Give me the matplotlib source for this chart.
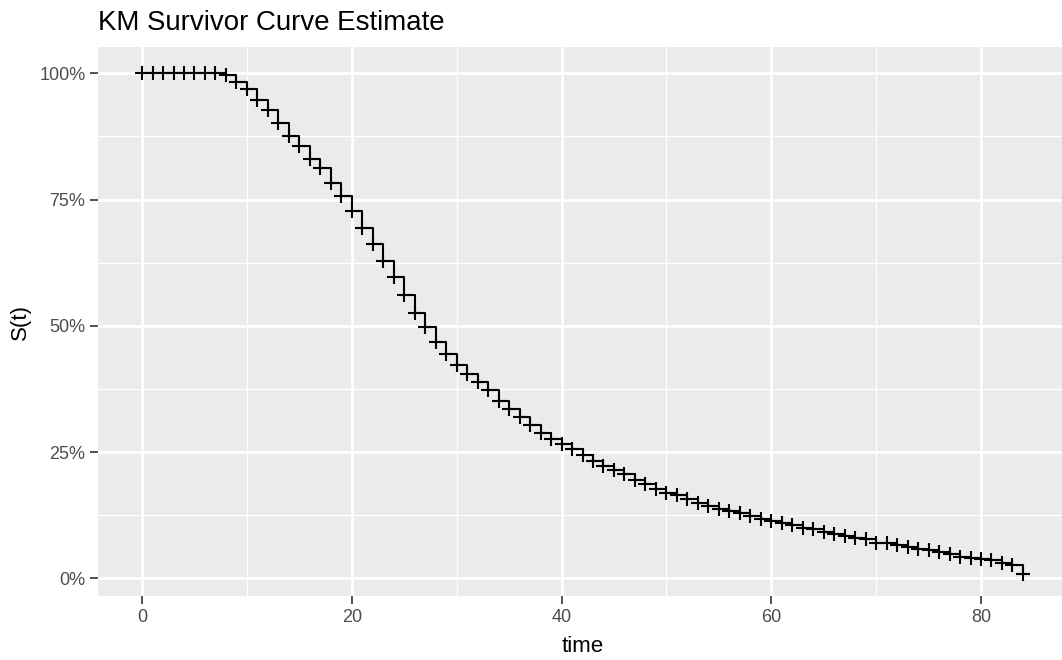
import matplotlib.pyplot as plt
from matplotlib.ticker import FixedLocator, FuncFormatter

plt.rcParams['font.family'] = ['Liberation Sans', 'DejaVu Sans']

# KM estimate (percent), one value per time 0..84
times = list(range(0, 85))
surv = [
    100.0, 100.0, 100.0, 100.0, 100.0, 100.0, 100.0, 100.0, 99.6, 98.3,
    96.8, 94.7, 92.7, 90.1, 87.5, 85.6, 83.1, 81.2, 78.3, 75.6,
    72.7, 69.3, 66.1, 62.9, 59.6, 56.0, 52.6, 49.7, 46.7, 44.4,
    42.3, 40.5, 38.9, 37.2, 35.2, 33.6, 32.0, 30.4, 28.8, 27.6,
    26.6, 25.7, 24.5, 23.3, 22.3, 21.4, 20.6, 19.5, 18.6, 17.6,
    16.9, 16.5, 15.8, 15.0, 14.3, 13.8, 13.4, 13.0, 12.3, 11.7,
    11.4, 11.0, 10.5, 10.0, 9.7, 9.2, 8.7, 8.4, 8.0, 7.7,
    7.0, 6.9, 6.6, 6.3, 5.9, 5.6, 5.3, 4.9, 4.3, 4.1,
    3.8, 3.6, 3.0, 2.6, 0.9,
]

x_major = [0, 20, 40, 60, 80]
x_minor = [10, 30, 50, 70]
y_major = [0, 25, 50, 75, 100]
y_minor = [12.5, 37.5, 62.5, 87.5]

fig = plt.figure(figsize=(10.62, 6.6), dpi=100)
# panel runs a little past the right edge of the picture, like the original
ax = fig.add_axes([98 / 1062, 64 / 660, 969 / 1062, 549 / 660])
ax.set_facecolor('#EBEBEB')
for s in ax.spines.values():
    s.set_visible(False)

ax.set_xlim(-4.2, 88.2)
ax.set_ylim(-3.5, 105.2)

for v in x_minor:
    ax.axvline(v, color='white', lw=1.0, zorder=0)
for v in y_minor:
    ax.axhline(v, color='white', lw=1.0, zorder=0)
for v in x_major:
    ax.axvline(v, color='white', lw=2.0, zorder=0)
for v in y_major:
    ax.axhline(v, color='white', lw=2.0, zorder=0)

ax.plot(times, surv, drawstyle='steps-post', color='black', lw=1.5, zorder=3)
ax.plot(times, surv, ls='none', marker='+', ms=10, mew=1.5, color='black', zorder=4)

ax.xaxis.set_major_locator(FixedLocator(x_major))
ax.yaxis.set_major_locator(FixedLocator(y_major))
ax.yaxis.set_major_formatter(FuncFormatter(lambda v, p: f"{v:.0f}%"))
ax.tick_params(axis='both', length=6, width=1.2, color='#333333',
               labelcolor='#4D4D4D', labelsize=13, pad=3)

ax.set_xlabel('time', fontsize=16, color='black', labelpad=2)
ax.xaxis.set_label_coords((583 - 98) / 969, -0.072)
ax.set_ylabel('S(t)', fontsize=16, color='black', labelpad=6)

fig.text(98 / 1062, 1 - 30 / 660, 'KM Survivor Curve Estimate', fontsize=19.9,
         color='black', ha='left', va='baseline')

fig.savefig('out.png', dpi=100)
